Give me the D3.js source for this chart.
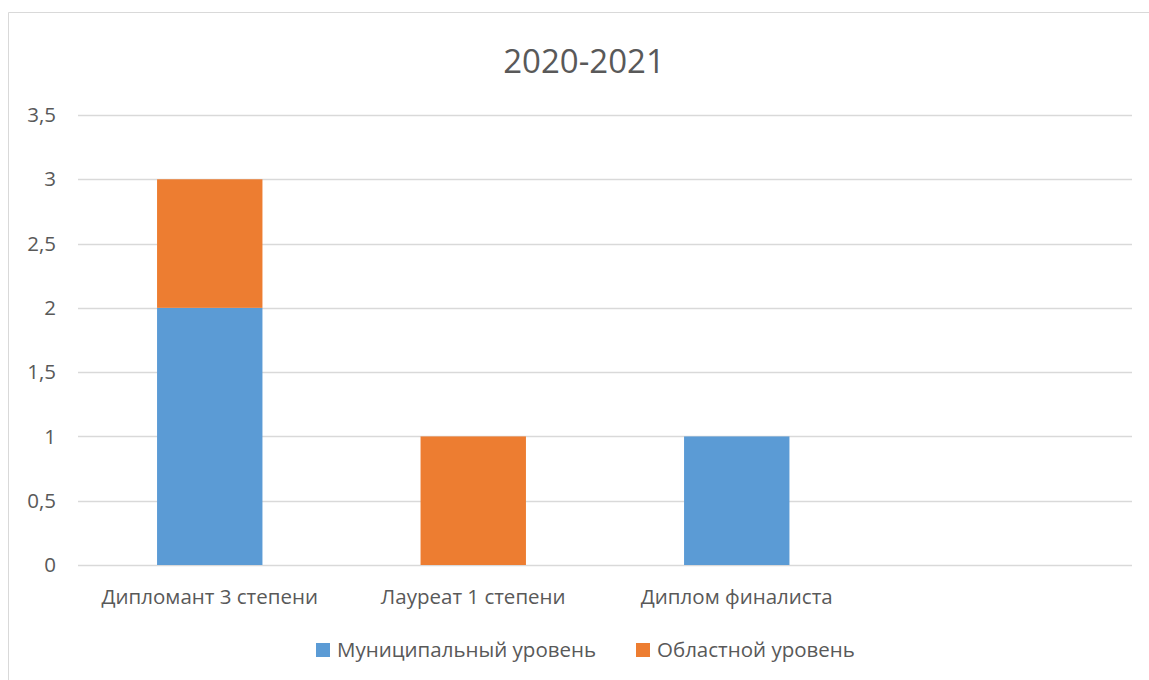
<!DOCTYPE html>
<html><head><meta charset="utf-8">
<script src="https://cdn.jsdelivr.net/npm/d3@7"></script>
<style>body{margin:0;background:#fff;} text{font-family:"Open Sans",sans-serif;fill:#595959;}</style>
</head><body><svg id="c" width="1149" height="680"></svg>
<script>
const title = "2020-2021";
const categories = ["Дипломант 3 степени", "Лауреат 1 степени", "Диплом финалиста", ""];
const seriesNames = ["Муниципальный уровень", "Областной уровень"];
const municipal = [2, 0, 1, 0];
const regional = [1, 1, 0, 0];
const yTicks = [0, 0.5, 1, 1.5, 2, 2.5, 3, 3.5];
const colors = ["#5B9BD5", "#ED7D31"];

const svg = d3.select("#c");
svg.append("path").attr("d","M8.5,700 V12.5 H1160").attr("fill","none").attr("stroke","#D9D9D9").attr("stroke-width",1);

const x = d3.scaleBand().domain(d3.range(categories.length)).range([78, 1132]).padding(0);
const y = d3.scaleLinear().domain([0, 3.5]).range([565, 115]);

const fmt = d => String(d).replace(".", ",");

svg.append("g").selectAll("line").data(yTicks).join("line")
  .attr("x1", 78).attr("x2", 1132)
  .attr("y1", d => Math.round(y(d)) + 0.5).attr("y2", d => Math.round(y(d)) + 0.5)
  .attr("stroke", "#D9D9D9").attr("stroke-width", 1.3);

svg.append("g").selectAll("text").data(yTicks).join("text")
  .attr("x", 56).attr("y", d => y(d)).attr("dy", "0.35em")
  .attr("text-anchor", "end").style("font-size", "20.5px").text(fmt);

const stackData = categories.map((c, i) => ({i, m: municipal[i], r: regional[i]}));
const stack = d3.stack().keys(["m", "r"])(stackData);
const bw = x.bandwidth() * 0.4;
svg.append("g").selectAll("g").data(stack).join("g")
  .attr("fill", (d, k) => colors[k])
  .selectAll("rect").data(d => d).join("rect")
  .attr("x", d => x(d.data.i) + (x.bandwidth() - bw) / 2)
  .attr("width", bw)
  .attr("y", d => y(d[1]))
  .attr("height", d => y(d[0]) - y(d[1]));

svg.append("g").selectAll("text").data(categories).join("text")
  .attr("x", (d, i) => x(i) + x.bandwidth() / 2).attr("y", 597).attr("dy", "0.35em")
  .attr("text-anchor", "middle").style("font-size", "20.5px").text(d => d);

svg.append("text").attr("x", 584).attr("y", 61).attr("dy", "0.35em").attr("text-anchor", "middle")
  .style("font-size", "33px").text(title);

const legendX = [316, 636];
const lg = svg.append("g").selectAll("g").data(seriesNames).join("g")
  .attr("transform", (d, i) => `translate(${legendX[i]},650)`);
lg.append("rect").attr("x", 0).attr("y", -7).attr("width", 14).attr("height", 14).attr("fill", (d, i) => colors[i]);
lg.append("text").attr("x", 21).attr("dy", "0.35em").style("font-size", "20.5px").text(d => d);
</script></body></html>
